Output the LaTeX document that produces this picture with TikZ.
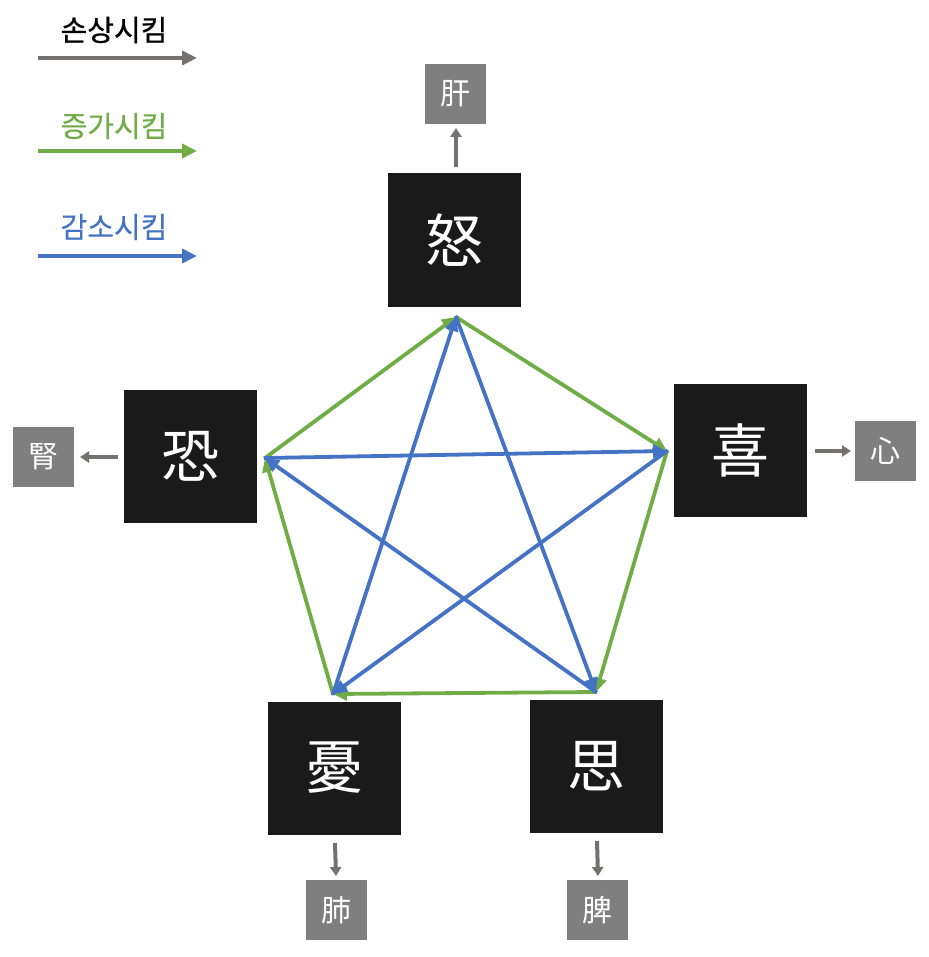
\documentclass[tikz,border=0pt]{standalone}
\usepackage{fontspec}
\setmainfont{Noto Sans CJK KR}
\newfontfamily\legf{Noto Sans CJK KR}[FakeBold=0.8]
\newfontfamily\legr{Noto Sans CJK KR}[FakeBold=0.3]
\usetikzlibrary{arrows.meta}
\definecolor{gr}{HTML}{70AD47}
\definecolor{bl}{HTML}{4472C4}
\definecolor{ar}{HTML}{767171}
\definecolor{bx}{HTML}{1A1A1A}
\definecolor{sb}{HTML}{7F7F7F}
\tikzset{
  emo/.style={fill=bx, minimum width=133pt, minimum height=133pt, inner sep=0pt, text=white, font=\fontsize{58}{60}\selectfont},
  organ/.style={fill=sb, minimum width=61pt, minimum height=60pt, inner sep=0pt, text=white, font=\fontsize{30}{32}\selectfont},
  tip/.style={-{Triangle[length=14pt,width=13pt]}},
  grayarr/.style={draw=ar, line width=4pt, -{Triangle[length=9pt,width=11pt]}},
  legarr/.style={line width=4pt, -{Triangle[length=15pt,width=14pt]}},
  grline/.style={draw=gr, line width=3.8pt, tip, shorten <=-1pt},
  blline/.style={draw=bl, line width=3.8pt, tip, shorten <=-1pt},
  legtxt/.style={font=\legr\fontsize{29}{31}\selectfont, inner sep=0pt},
  legtxtb/.style={font=\legf\fontsize{29}{31}\selectfont, inner sep=0pt}
}
\begin{document}
\begin{tikzpicture}[x=1pt,y=-1pt]
\useasboundingbox (0,0) rectangle (928,957);
% legend
\node[legtxtb] (l1) at (114,30) {손상시킴};
\coordinate (l1a) at (38,58); \coordinate (l1b) at (197,58);
\draw[legarr, draw=ar] (l1a) -- (l1b);
\node[legtxt, text=gr] (l2) at (114,126) {증가시킴};
\coordinate (l2a) at (38,151); \coordinate (l2b) at (197,151);
\draw[legarr, draw=gr] (l2a) -- (l2b);
\node[legtxt, text=bl] (l3) at (114,227) {감소시킴};
\coordinate (l3a) at (38,256); \coordinate (l3b) at (197,256);
\draw[legarr, draw=bl] (l3a) -- (l3b);
% emotion boxes
\node[emo] (nu) at (454,240) {怒};
\node[emo] (hi) at (740,450) {喜};
\node[emo] (go) at (190,456) {恐};
\node[emo] (wu) at (334,768) {憂};
\node[emo] (sa) at (596,766) {思};
% organ boxes
\node[organ] (gan) at (455,94) {肝};
\node[organ] (sim) at (885,451) {心};
\node[organ] (sin) at (43,457) {腎};
\node[organ] (pye) at (336,910) {肺};
\node[organ] (bi) at (597,910) {脾};
% organ arrow ends
\coordinate (c0) at (456,167); \coordinate (d0) at (456,128);
\coordinate (c1) at (815,451); \coordinate (d1) at (851,451);
\coordinate (c2) at (118,457); \coordinate (d2) at (80,457);
\coordinate (c3) at (335,843); \coordinate (d3) at (336,876);
\coordinate (c4) at (597,841); \coordinate (d4) at (598,876);
\draw[grayarr] (c0) -- (d0);
\draw[grayarr] (c1) -- (d1);
\draw[grayarr] (c2) -- (d2);
\draw[grayarr] (c3) -- (d3);
\draw[grayarr] (c4) -- (d4);
% pentagon vertices
\coordinate (T) at (456,317);
\coordinate (R) at (667,451);
\coordinate (BR) at (596,692);
\coordinate (BL) at (333,694);
\coordinate (L) at (265,458);
% green cycle
\draw[grline] (L) -- (T);
\draw[grline] (T) -- (R);
\draw[grline] (R) -- (BR);
\draw[grline] (BR) -- (BL);
\draw[grline] (BL) -- (L);
% blue star
\draw[blline] (T) -- (BR);
\draw[blline] (BR) -- (L);
\draw[blline] (L) -- (R);
\draw[blline] (R) -- (BL);
\draw[blline] (BL) -- (T);
\end{tikzpicture}
\end{document}
